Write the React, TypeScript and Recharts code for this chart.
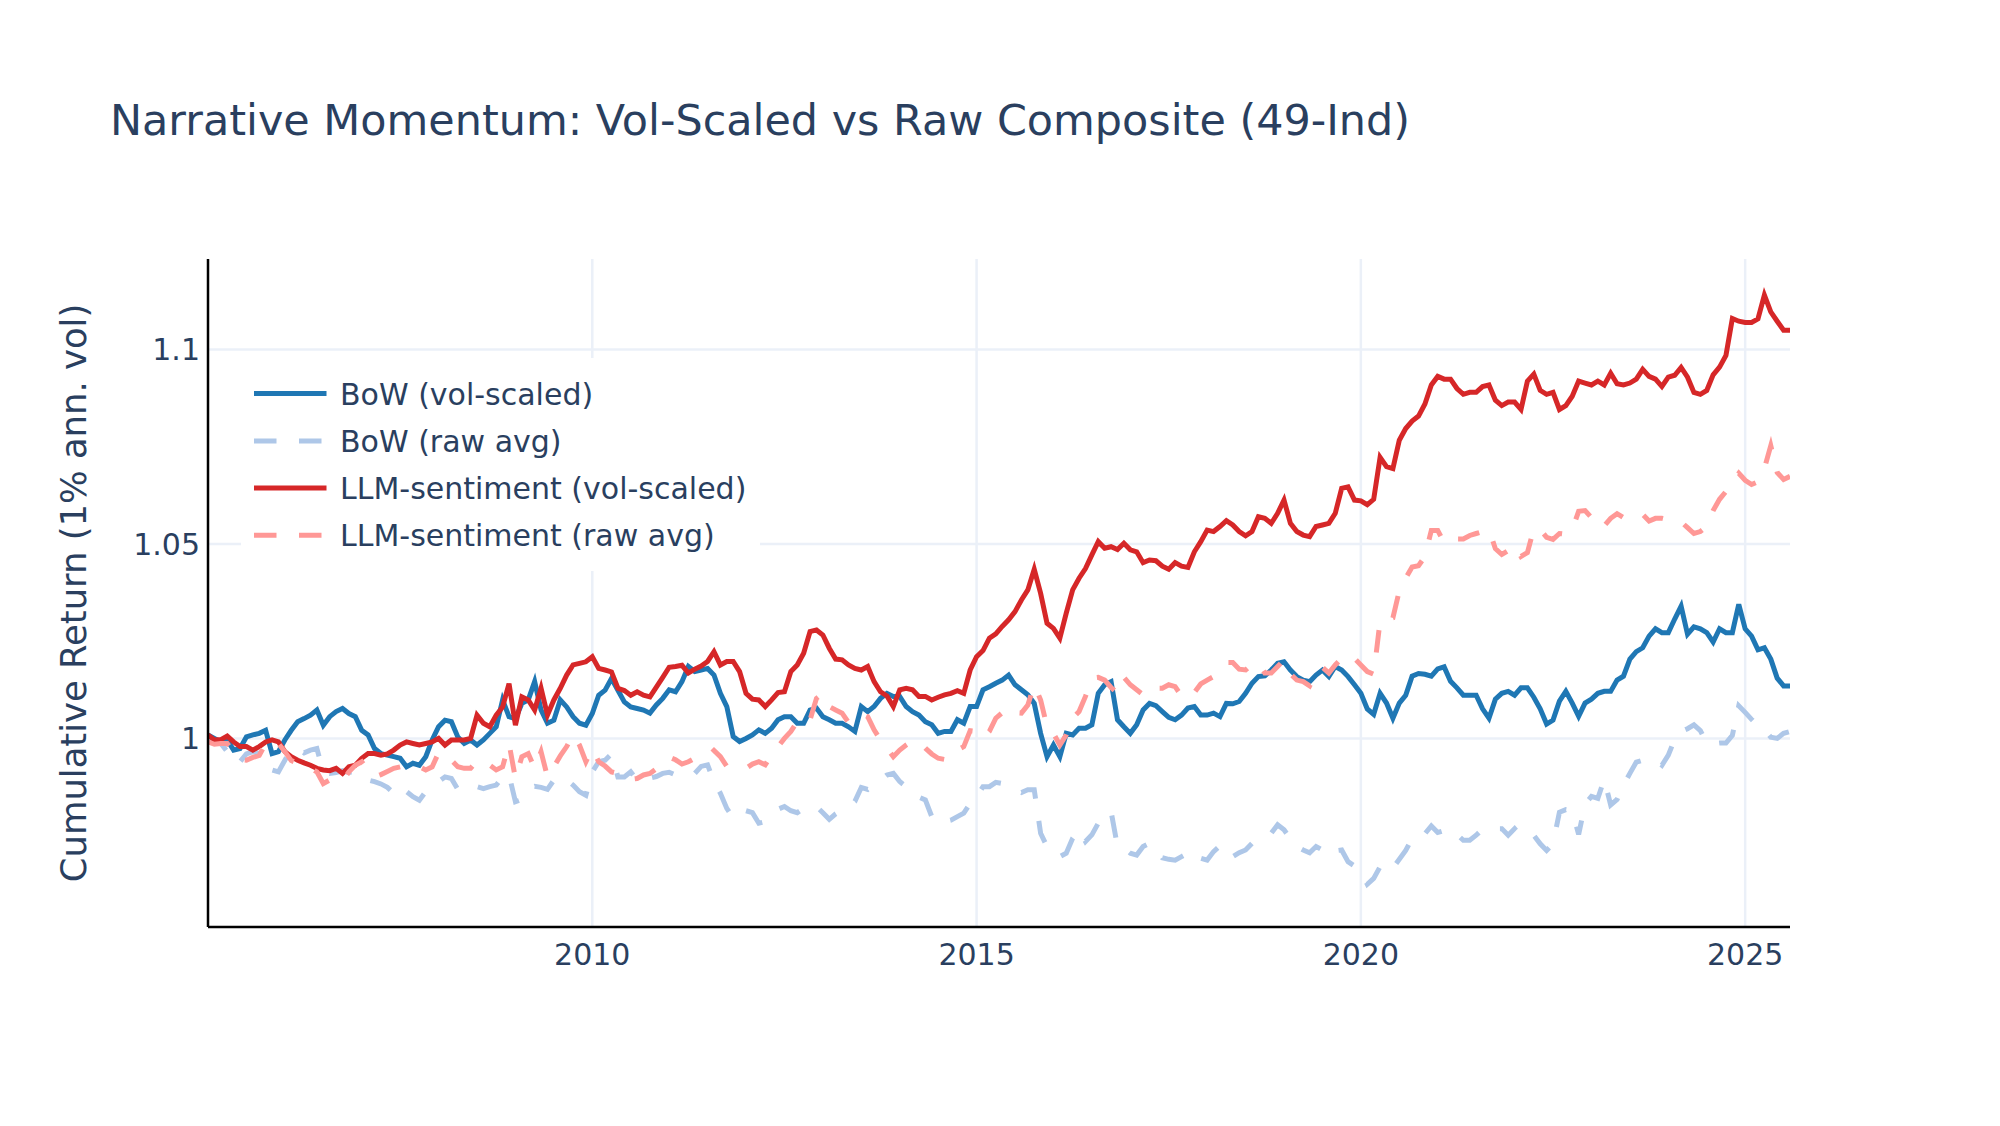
import React from 'react';
import { LineChart, Line, XAxis, YAxis, CartesianGrid } from 'recharts';

const FONT = '"DejaVu Sans", Verdana, sans-serif';
const TEXT = '#2a3f5f';

const chartTitle = 'Narrative Momentum: Vol-Scaled vs Raw Composite (49-Ind)';
const yAxisTitle = 'Cumulative Return (1% ann. vol)';
const seriesNames = ['BoW (vol-scaled)', 'BoW (raw avg)', 'LLM-sentiment (vol-scaled)', 'LLM-sentiment (raw avg)'];
const xTicks = [2010, 2015, 2020, 2025];
const yTicks = [1, 1.05, 1.1];
const startYear = 2005; // monthly observations from Jan 2005

const bowVol = [
  1.0009, 1.0000, 0.9991, 0.9996, 0.9970, 0.9974, 1.0004, 1.0009, 1.0013, 1.0021,
  0.9961, 0.9966, 0.9996, 1.0021, 1.0043, 1.0051, 1.0060, 1.0073, 1.0034, 1.0056,
  1.0069, 1.0077, 1.0064, 1.0056, 1.0021, 1.0009, 0.9974, 0.9961, 0.9957, 0.9953,
  0.9949, 0.9927, 0.9936, 0.9931, 0.9953, 0.9996, 1.0030, 1.0047, 1.0043, 1.0004,
  0.9987, 0.9996, 0.9983, 0.9996, 1.0013, 1.0030, 1.0099, 1.0056, 1.0051, 1.0090,
  1.0099, 1.0146, 1.0073, 1.0039, 1.0047, 1.0099, 1.0081, 1.0056, 1.0039, 1.0034,
  1.0064, 1.0111, 1.0124, 1.0154, 1.0124, 1.0094, 1.0081, 1.0077, 1.0073,
  1.0065,
  1.0086, 1.0103, 1.0125, 1.0120, 1.0146, 1.0185, 1.0172, 1.0176, 1.0180, 1.0163,
  1.0116, 1.0082, 1.0005, 0.9992, 1.0000, 1.0009, 1.0022, 1.0013, 1.0026, 1.0048,
  1.0056, 1.0056, 1.0039, 1.0039, 1.0073, 1.0078, 1.0056, 1.0048, 1.0039, 1.0039,
  1.0030, 1.0018, 1.0082, 1.0069, 1.0082, 1.0103, 1.0116, 1.0108, 1.0108, 1.0082,
  1.0069, 1.0060, 1.0043, 1.0035, 1.0013, 1.0018, 1.0018, 1.0048, 1.0039, 1.0082,
  1.0082, 1.0125, 1.0133, 1.0142, 1.0150, 1.0163, 1.0138, 1.0125, 1.0112, 1.0090,
  1.0013, 0.9953,
  0.9983, 0.9953, 1.0013, 1.0009, 1.0026, 1.0026, 1.0035, 1.0116,
  1.0138, 1.0146, 1.0048, 1.0030, 1.0013, 1.0035, 1.0073, 1.0090, 1.0084, 1.0069,
  1.0054, 1.0048, 1.0060, 1.0078, 1.0082, 1.0060, 1.0060, 1.0065, 1.0056, 1.0090,
  1.0089, 1.0095, 1.0116, 1.0142, 1.0159, 1.0161, 1.0176, 1.0193, 1.0197, 1.0176,
  1.0159, 1.0150, 1.0146, 1.0163, 1.0176, 1.0159, 1.0185, 1.0176, 1.0159, 1.0138,
  1.0116, 1.0076, 1.0062, 1.0116, 1.0091, 1.0052, 1.0091, 1.0111, 1.0160, 1.0167,
  1.0165, 1.0160, 1.0179, 1.0184, 1.0147, 1.0130, 1.0111, 1.0111, 1.0111, 1.0076,
  1.0052, 1.0101, 1.0116, 1.0121, 1.0111, 1.0130, 1.0130, 1.0106, 1.0076, 1.0037,
  1.0047, 1.0096, 1.0121, 1.0091, 1.0057, 1.0091, 1.0101, 1.0116, 1.0121, 1.0121,
  1.0150, 1.0160, 1.0204, 1.0223, 1.0233, 1.0263, 1.0282, 1.0272, 1.0272, 1.0307,
  1.0340, 1.0268, 1.0287, 1.0282, 1.0272, 1.0248, 1.0282, 1.0272, 1.0272, 1.0345,
  1.0282, 1.0263, 1.0228, 1.0233, 1.0204, 1.0155, 1.0135, 1.0135,
];

const bowRaw = [
  1.0000, 0.9991, 0.9987, 0.9966, 0.9936, 0.9940, 0.9960, 0.9966, 0.9961, 0.9953,
  0.9919, 0.9914, 0.9944, 0.9970, 0.9974, 0.9963, 0.9970, 0.9974, 0.9914, 0.9910,
  0.9912, 0.9917, 0.9912, 0.9917, 0.9908, 0.9893, 0.9889, 0.9883, 0.9874, 0.9859,
  0.9846, 0.9863, 0.9850, 0.9841, 0.9863, 0.9876, 0.9889, 0.9901, 0.9897, 0.9869,
  0.9867, 0.9876, 0.9876, 0.9871, 0.9876, 0.9880, 0.9901, 0.9906, 0.9837, 0.9843,
  0.9871, 0.9877, 0.9874, 0.9869, 0.9893, 0.9901, 0.9893, 0.9880, 0.9863, 0.9854,
  0.9914, 0.9940, 0.9944, 0.9960, 0.9901, 0.9901, 0.9914, 0.9893, 0.9889,
  0.9898,
  0.9902, 0.9910, 0.9913, 0.9906, 0.9902, 0.9906, 0.9910, 0.9928, 0.9932, 0.9889,
  0.9859, 0.9820, 0.9795, 0.9803, 0.9814, 0.9809, 0.9782, 0.9786, 0.9800, 0.9818,
  0.9825, 0.9814, 0.9809, 0.9820, 0.9826, 0.9825, 0.9809, 0.9792, 0.9806, 0.9816,
  0.9825, 0.9838, 0.9874, 0.9869, 0.9883, 0.9893, 0.9906, 0.9910, 0.9889, 0.9876,
  0.9869, 0.9849, 0.9842, 0.9799, 0.9782, 0.9786, 0.9790, 0.9799, 0.9808, 0.9833,
  0.9849, 0.9876, 0.9876, 0.9887, 0.9884, 0.9878, 0.9868, 0.9861, 0.9868, 0.9868,
  0.9756, 0.9722,
  0.9713, 0.9696, 0.9705, 0.9743, 0.9765, 0.9735, 0.9752, 0.9782,
  0.9797, 0.9812, 0.9722, 0.9718, 0.9705, 0.9700, 0.9722, 0.9730, 0.9718, 0.9693,
  0.9689, 0.9687, 0.9696, 0.9705, 0.9711, 0.9692, 0.9687, 0.9709, 0.9724, 0.9722,
  0.9696, 0.9706, 0.9713, 0.9730, 0.9739, 0.9746, 0.9756, 0.9778, 0.9765, 0.9742,
  0.9722, 0.9713, 0.9706, 0.9722, 0.9713, 0.9698, 0.9711, 0.9713, 0.9683, 0.9672,
  0.9658, 0.9625, 0.9640, 0.9670, 0.9680, 0.9667, 0.9689, 0.9712, 0.9743, 0.9755,
  0.9755, 0.9775, 0.9758, 0.9763, 0.9768, 0.9753, 0.9738, 0.9738, 0.9751, 0.9767,
  0.9768, 0.9768, 0.9768, 0.9751, 0.9768, 0.9748, 0.9755, 0.9751, 0.9729, 0.9712,
  0.9729, 0.9810, 0.9817, 0.9814, 0.9753, 0.9831, 0.9851, 0.9846, 0.9895, 0.9829,
  0.9843, 0.9880, 0.9910, 0.9939, 0.9944, 0.9939, 0.9944, 0.9931, 0.9957, 0.9998,
  1.0018, 1.0025, 1.0035, 1.0020, 0.9988, 0.9986, 0.9988, 0.9988, 1.0008, 1.0084,
  1.0067, 1.0049, 1.0032, 1.0023, 1.0003, 1.0000, 1.0013, 1.0018,
];

const llmVol = [
  1.0009, 0.9996, 0.9997, 1.0006, 0.9991, 0.9979, 0.9979, 0.9970, 0.9979, 0.9991,
  0.9996, 0.9991, 0.9966, 0.9953, 0.9944, 0.9937, 0.9931, 0.9923, 0.9919, 0.9917,
  0.9923, 0.9910, 0.9927, 0.9931, 0.9949, 0.9961, 0.9961, 0.9957, 0.9960, 0.9970,
  0.9983, 0.9991, 0.9987, 0.9983, 0.9987, 0.9991, 1.0000, 0.9983, 0.9996, 0.9996,
  0.9996, 1.0000, 1.0060, 1.0039, 1.0030, 1.0060, 1.0081, 1.0141, 1.0034, 1.0107,
  1.0099, 1.0073, 1.0129, 1.0060, 1.0099, 1.0129, 1.0163, 1.0189, 1.0193, 1.0197,
  1.0210, 1.0180, 1.0176, 1.0171, 1.0129, 1.0123, 1.0111, 1.0120, 1.0111,
  1.0107,
  1.0132, 1.0157, 1.0183, 1.0185, 1.0188, 1.0168, 1.0178, 1.0186, 1.0198, 1.0223,
  1.0189, 1.0198, 1.0198, 1.0172, 1.0116, 1.0101, 1.0099, 1.0082, 1.0099, 1.0118,
  1.0120, 1.0172, 1.0189, 1.0219, 1.0275, 1.0279, 1.0266, 1.0232, 1.0204, 1.0202,
  1.0189, 1.0180, 1.0176, 1.0185, 1.0146, 1.0120, 1.0109, 1.0082, 1.0125, 1.0129,
  1.0125, 1.0108, 1.0108, 1.0099, 1.0106, 1.0112, 1.0116, 1.0123, 1.0116, 1.0176,
  1.0210, 1.0226, 1.0258, 1.0269, 1.0288, 1.0305, 1.0326, 1.0356, 1.0382, 1.0435,
  1.0373, 1.0296,
  1.0283, 1.0258, 1.0322, 1.0382, 1.0412, 1.0437, 1.0472, 1.0506,
  1.0489, 1.0493, 1.0486, 1.0502, 1.0485, 1.0480, 1.0452, 1.0459, 1.0457, 1.0443,
  1.0435, 1.0452, 1.0443, 1.0440, 1.0480, 1.0506, 1.0536, 1.0532, 1.0545, 1.0560,
  1.0549, 1.0532, 1.0521, 1.0532, 1.0570, 1.0566, 1.0553, 1.0579, 1.0613, 1.0553,
  1.0532, 1.0523, 1.0519, 1.0545, 1.0549, 1.0553, 1.0579, 1.0643, 1.0647, 1.0613,
  1.0611, 1.0601, 1.0615, 1.0723, 1.0699, 1.0694, 1.0767, 1.0797, 1.0816, 1.0829,
  1.0860, 1.0909, 1.0931, 1.0924, 1.0924, 1.0900, 1.0885, 1.0890, 1.0890, 1.0905,
  1.0909, 1.0870, 1.0856, 1.0865, 1.0865, 1.0846, 1.0919, 1.0937, 1.0895, 1.0885,
  1.0890, 1.0846, 1.0856, 1.0880, 1.0919, 1.0914, 1.0909, 1.0919, 1.0909, 1.0939,
  1.0912, 1.0909, 1.0914, 1.0924, 1.0949, 1.0931, 1.0924, 1.0905, 1.0929, 1.0934,
  1.0954, 1.0929, 1.0890, 1.0885, 1.0895, 1.0935, 1.0955, 1.0985,
  1.1080, 1.1073, 1.1070, 1.1070, 1.1079, 1.1140, 1.1097, 1.1073, 1.1050, 1.1050,
];

const llmRaw = [
  0.9991, 0.9985, 0.9987, 0.9987, 0.9966, 0.9946, 0.9944, 0.9951, 0.9956, 0.9987,
  0.9996, 0.9987, 0.9966, 0.9943, 0.9936, 0.9931, 0.9923, 0.9914, 0.9884, 0.9893,
  0.9895, 0.9889, 0.9914, 0.9931, 0.9940, 0.9917, 0.9901, 0.9907, 0.9915, 0.9923,
  0.9927, 0.9927, 0.9931, 0.9927, 0.9919, 0.9927, 0.9963, 0.9946, 0.9944, 0.9927,
  0.9923, 0.9923, 0.9943, 0.9931, 0.9931, 0.9919, 0.9927, 0.9987, 0.9897, 0.9953,
  0.9961, 0.9923, 0.9966, 0.9901, 0.9927, 0.9955, 0.9979, 1.0011, 0.9983, 0.9940,
  0.9974, 0.9940, 0.9929, 0.9914, 0.9910, 0.9907, 0.9895, 0.9897, 0.9906,
  0.9910,
  0.9922, 0.9932, 0.9952, 0.9945, 0.9934, 0.9940, 0.9949, 0.9953, 0.9953, 0.9969,
  0.9953, 0.9928, 0.9926, 0.9924, 0.9923, 0.9934, 0.9940, 0.9932, 0.9958, 0.9979,
  1.0000, 1.0018, 1.0043, 1.0056, 1.0048, 1.0103, 1.0116, 1.0082, 1.0073, 1.0065,
  1.0041, 1.0056, 1.0063, 1.0056, 1.0022, 0.9996, 0.9975, 0.9953, 0.9970, 0.9983,
  0.9994, 0.9992, 0.9975, 0.9960, 0.9949, 0.9946, 0.9946, 0.9970, 0.9979, 1.0020,
  1.0018, 1.0000, 1.0018, 1.0052, 1.0066, 1.0080, 1.0066, 1.0065, 1.0086, 1.0138,
  1.0099, 1.0030,
  1.0013, 0.9983, 1.0009, 1.0052, 1.0069, 1.0108, 1.0155, 1.0157,
  1.0150, 1.0131, 1.0116, 1.0157, 1.0138, 1.0125, 1.0112, 1.0131, 1.0129, 1.0129,
  1.0138, 1.0133, 1.0109, 1.0103, 1.0118, 1.0140, 1.0150, 1.0159, 1.0176, 1.0195,
  1.0195, 1.0178, 1.0176, 1.0191, 1.0195, 1.0168, 1.0168, 1.0185, 1.0202, 1.0166,
  1.0150, 1.0146, 1.0135, 1.0169, 1.0183, 1.0168, 1.0189, 1.0206, 1.0217, 1.0206,
  1.0189, 1.0172, 1.0165,
  1.0302, 1.0304, 1.0310, 1.0380, 1.0412, 1.0441, 1.0444,
  1.0468, 1.0535, 1.0535, 1.0503, 1.0513, 1.0513, 1.0513, 1.0522, 1.0527, 1.0532,
  1.0537, 1.0488, 1.0473, 1.0483, 1.0498, 1.0468, 1.0478, 1.0539, 1.0537, 1.0517,
  1.0512, 1.0527, 1.0525, 1.0537, 1.0584, 1.0586, 1.0568, 1.0542, 1.0547, 1.0566,
  1.0578, 1.0568, 1.0574, 1.0581, 1.0576, 1.0559, 1.0566, 1.0566, 1.0562, 1.0557,
  1.0557, 1.0542, 1.0527, 1.0532, 1.0545, 1.0586, 1.0615, 1.0635, 1.0660, 1.0682,
  1.0664, 1.0653, 1.0660, 1.0694, 1.0753, 1.0684, 1.0666, 1.0674,
];

const data = bowVol.map((v, i) => ({
  t: startYear + i / 12,
  bowVol: v,
  bowRaw: bowRaw[i],
  llmVol: llmVol[i],
  llmRaw: llmRaw[i],
}));

const series = [
  { key: 'bowVol', name: seriesNames[0], color: '#1f77b4', dash: undefined as string | undefined },
  { key: 'bowRaw', name: seriesNames[1], color: '#aec7e8', dash: '22.5 22.5' },
  { key: 'llmVol', name: seriesNames[2], color: '#d62728', dash: undefined },
  { key: 'llmRaw', name: seriesNames[3], color: '#ff9896', dash: '22.5 22.5' },
];

const xMax = startYear + (bowVol.length - 1) / 12;

export default function App() {
  const legendTop = 358;
  const rowY = [393.5, 441, 488, 535.3];
  return (
    <div style={{ position: 'absolute', left: 0, top: 0, width: 2000, height: 1126, background: '#ffffff', fontFamily: FONT }}>
      <LineChart
        width={2000}
        height={1126}
        data={data}
        margin={{ top: 259, right: 210, bottom: 0, left: 0 }}
        style={{ fontFamily: FONT }}
      >
        <CartesianGrid
          stroke="#ebf0f8"
          strokeWidth={2.5}
          horizontalValues={yTicks}
          verticalValues={xTicks}
        />
        <XAxis
          dataKey="t"
          type="number"
          domain={[startYear, xMax]}
          ticks={xTicks}
          height={199}
          tickSize={0}
          tickMargin={17}
          tickLine={false}
          axisLine={{ stroke: '#000000', strokeWidth: 2.5 }}
          tick={{ fontSize: 30, fill: TEXT, fontFamily: FONT }}
          allowDataOverflow
        />
        <YAxis
          type="number"
          domain={[0.9515, 1.1233]}
          ticks={yTicks}
          width={208}
          tickSize={0}
          tickMargin={8}
          tickLine={false}
          axisLine={{ stroke: '#000000', strokeWidth: 2.5 }}
          tick={{ fontSize: 30, fill: TEXT, fontFamily: FONT }}
          tickFormatter={(v: number) => String(v)}
          allowDataOverflow
        />
        {series.map((s) => (
          <Line
            key={s.key}
            dataKey={s.key}
            name={s.name}
            type="linear"
            stroke={s.color}
            strokeWidth={5}
            strokeDasharray={s.dash}
            dot={false}
            activeDot={false}
            isAnimationActive={false}
          />
        ))}
      </LineChart>
      <svg
        width={2000}
        height={1126}
        style={{ position: 'absolute', left: 0, top: 0, pointerEvents: 'none' }}
      >
        <text x={110} y={135} fontSize={42.9} fill={TEXT} fontFamily={FONT}>
          {chartTitle}
        </text>
        <text
          transform="rotate(-90)"
          x={-593}
          y={86}
          textAnchor="middle"
          fontSize={35.4}
          fill={TEXT}
          fontFamily={FONT}
        >
          {yAxisTitle}
        </text>
        <rect x={241} y={legendTop} width={519} height={213} fill="#ffffff" />
        {series.map((s, i) => (
          <g key={s.key}>
            <line
              x1={254}
              x2={326.5}
              y1={rowY[i]}
              y2={rowY[i]}
              stroke={s.color}
              strokeWidth={5}
              strokeDasharray={s.dash}
            />
            <text x={340} y={rowY[i] + 11} fontSize={30} fill={TEXT} fontFamily={FONT}>
              {s.name}
            </text>
          </g>
        ))}
      </svg>
    </div>
  );
}
